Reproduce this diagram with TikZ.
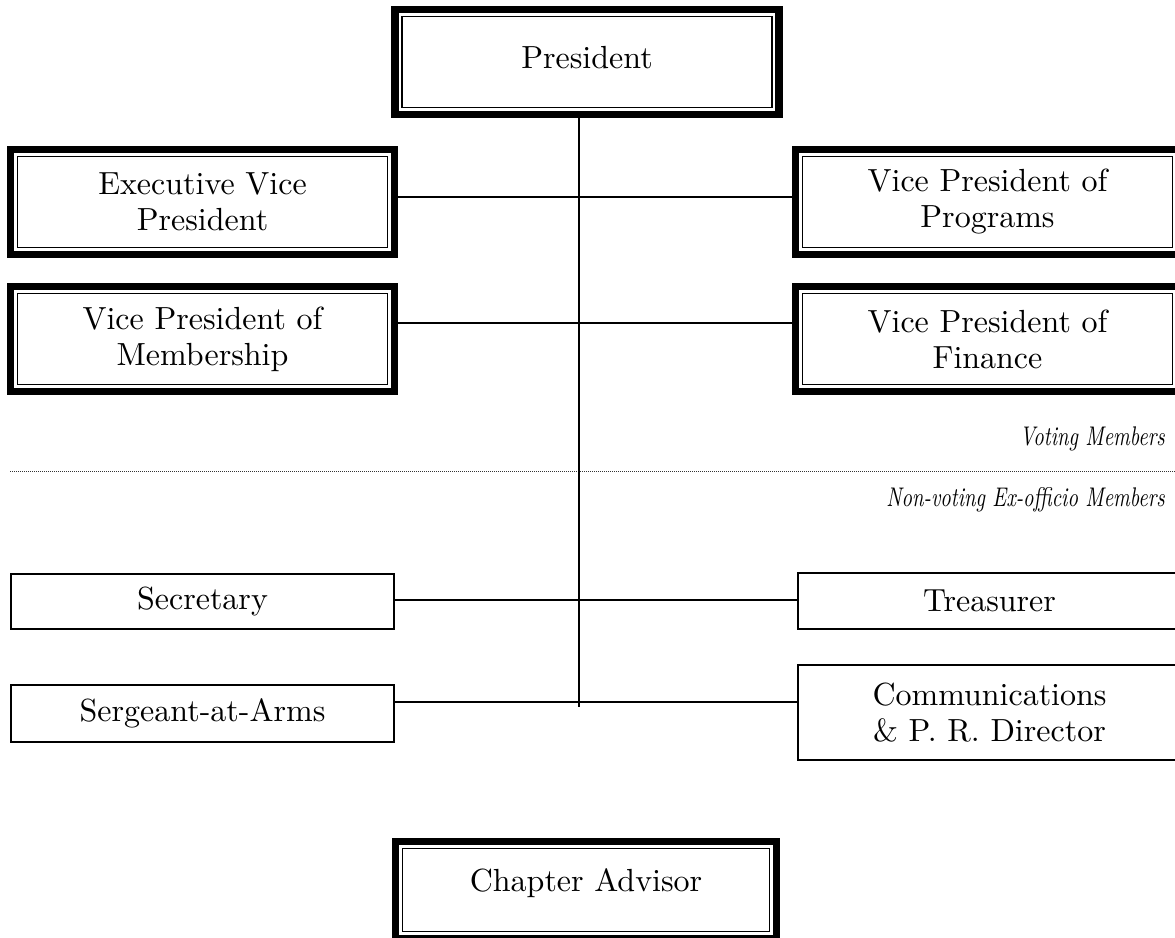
\documentclass[tikz,border=0pt]{standalone}
\usepackage{fontspec}
\setmainfont{lmroman10-regular.otf}[ItalicFont=lmroman10-italic.otf]
\usetikzlibrary{calc}
\begin{document}
\begin{tikzpicture}[x=1pt,y=1pt,
  every node/.style={font=\fontsize{32}{36}\selectfont, align=center, inner sep=0pt},
  dbl/.style={draw, line width=7.5pt, minimum width=384pt, minimum height=105pt,
    path picture={\draw[line width=1.8pt]
      ($(path picture bounding box.north west)+(7,-7)$) rectangle
      ($(path picture bounding box.south east)+(-7,7)$);}},
  sbox/.style={draw, line width=1.8pt, minimum width=383pt},
  conn/.style={line width=1.8pt},
  sepline/.style={line width=0.9pt, dash pattern=on 0.9pt off 1.1pt, black!80},
  lbl/.style={anchor=east, xscale=0.76, font=\itshape\fontsize{27}{30}\selectfont}
]
\useasboundingbox (0,0) rectangle (1175,-937);

% voting members
\node[dbl, text depth=9pt] (pres) at (587,-62) {President};
\node[dbl] (evp) at (202.5,-202) {Executive Vice\\President};
\node[dbl] (vpp) at (987.5,-202) {Vice President of\\Programs};
\node[dbl] (vpm) at (202.5,-339) {Vice President of\\Membership};
\node[dbl] (vpf) at (987.5,-339) {Vice President of\\Finance};

% non-voting members
\node[sbox, minimum height=55pt] (sec) at (202.5,-601.5) {Secretary};
\node[sbox, minimum height=57pt] (sgt) at (202.5,-713.5) {Sergeant-at-Arms};
\node[sbox, minimum height=56pt] (tre) at (989.5,-601) {Treasurer};
\node[sbox, minimum height=95pt] (com) at (989.5,-712.5) {Communications\\\& P. R. Director};

% advisor
\node[dbl, minimum width=381pt, minimum height=97pt, text height=22pt, text depth=20pt] (adv) at (586,-890) {Chapter Advisor};

% divider and labels
\node[lbl] (vote) at (1165,-439) {Voting Members};
\node[lbl] (nonvote) at (1165,-500) {Non-voting Ex-officio Members};
\coordinate (dl) at (10,-471);
\coordinate (dr) at (1175,-471);
\draw[sepline] (dl) -- (dr);

% connectors
\coordinate (vbot) at (579,-707);
\coordinate (r1) at (579,-197);
\coordinate (r2) at (579,-323);
\coordinate (r3) at (579,-600);
\coordinate (r4) at (579,-702);
\draw[conn] (pres.south -| vbot) -- (vbot);
\draw[conn] (evp.east |- r1) -- (vpp.west |- r1);
\draw[conn] (vpm.east |- r2) -- (vpf.west |- r2);
\draw[conn] (sec.east |- r3) -- (tre.west |- r3);
\draw[conn] (sgt.east |- r4) -- (com.west |- r4);
\end{tikzpicture}
\end{document}
